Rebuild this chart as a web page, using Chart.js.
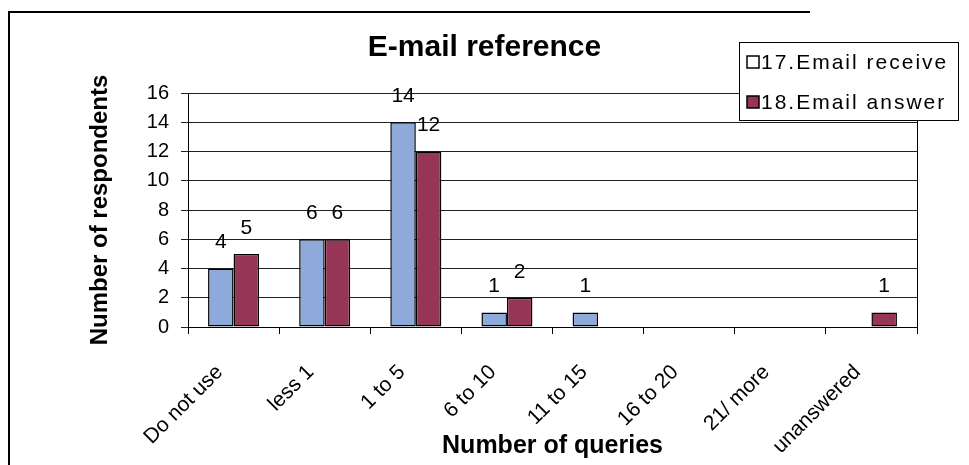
<!DOCTYPE html>
<html>
<head>
<meta charset="utf-8">
<script src="https://cdn.jsdelivr.net/npm/chart.js@4"></script>
<style>
  html, body { margin: 0; padding: 0; background: #fff; }
  #wrap { width: 969px; height: 465px; position: relative; }
</style>
</head>
<body>
<div id="wrap"><canvas id="myChart" width="969" height="465"></canvas></div>
<script>
// datos del grafico
var categorias = ['Do not use', 'less 1', '1 to 5', '6 to 10', '11 to 15', '16 to 20', '21/ more', 'unanswered'];
var emailReceive = [4, 6, 14, 1, 1, 0, 0, 0];
var emailAnswer = [5, 6, 12, 2, 0, 0, 0, 1];
var yTicks = [0, 2, 4, 6, 8, 10, 12, 14, 16];

var fuente = "'Liberation Sans', Arial, sans-serif";
var azul = '#8eaadb';
var granate = '#963656';

// etiquetas de valor encima de las barras
var etiquetas = {
    id: 'etiquetas',
    afterDatasetsDraw: function(chart) {
        var ctx = chart.ctx;
        ctx.save();
        ctx.font = '21px ' + fuente;
        ctx.fillStyle = '#000';
        ctx.textAlign = 'center';
        ctx.textBaseline = 'middle';
        chart.data.datasets.forEach(function(ds, i) {
            chart.getDatasetMeta(i).data.forEach(function(bar, j) {
                if (ds.data[j] > 0) ctx.fillText(ds.data[j], bar.x, bar.y - 26);
            });
        });
        ctx.restore();
    }
};

// marco exterior y leyenda con caja
var marco = {
    id: 'marco',
    afterDraw: function(chart) {
        var ctx = chart.ctx;
        ctx.save();
        ctx.strokeStyle = '#000';
        ctx.lineWidth = 2;
        ctx.beginPath();
        ctx.moveTo(9, 465);
        ctx.lineTo(9, 12);
        ctx.lineTo(810, 12);
        ctx.stroke();

        // leyenda
        ctx.fillStyle = '#fff';
        ctx.fillRect(739, 42, 219, 78);
        ctx.lineWidth = 1;
        ctx.strokeRect(739.5, 42.5, 219, 78);
        var muestras = ['#ffffff', granate];
        ctx.font = '21px ' + fuente;
        ctx.letterSpacing = '2px';
        ctx.textBaseline = 'middle';
        ctx.textAlign = 'left';
        chart.data.datasets.forEach(function(ds, i) {
            var y = 62 + i * 40;
            ctx.fillStyle = muestras[i];
            ctx.fillRect(747, y - 6, 12, 12);
            ctx.strokeStyle = '#000';
            ctx.lineWidth = 1.5;
            ctx.strokeRect(747, y - 6, 12, 12);
            ctx.fillStyle = '#000';
            ctx.fillText(ds.label, 761, y + 1);
        });
        ctx.restore();
    }
};

var ctx = document.getElementById('myChart').getContext('2d');
var myChart = new Chart(ctx, {
    type: 'bar',
    data: {
        labels: categorias,
        datasets: [{
            label: '17.Email receive',
            data: emailReceive,
            backgroundColor: azul,
            borderColor: '#000',
            borderWidth: 1.5,
            borderSkipped: false
        }, {
            label: '18.Email answer',
            data: emailAnswer,
            backgroundColor: granate,
            borderColor: '#000',
            borderWidth: 1.5,
            borderSkipped: false
        }]
    },
    options: {
        responsive: false,
        animation: false,
        layout: { padding: 0 },
        datasets: { bar: { categoryPercentage: 0.56, barPercentage: 1.0 } },
        plugins: {
            legend: { display: false },
            tooltip: { enabled: false },
            title: {
                display: true,
                text: 'E-mail reference',
                color: '#000',
                font: { family: fuente, size: 30, weight: 'bold' },
                padding: { top: 30, bottom: 27 }
            }
        },
        scales: {
            x: {
                afterFit: function(s) { s.height = 138; },
                grid: { drawOnChartArea: false, color: '#000', tickLength: 7 },
                border: { color: '#000', width: 1 },
                ticks: {
                    color: '#000',
                    font: { family: fuente, size: 21 },
                    minRotation: 45,
                    maxRotation: 45,
                    padding: 26,
                    labelOffset: -14
                },
                title: {
                    display: true,
                    text: 'Number of queries',
                    color: '#000',
                    font: { family: fuente, size: 25, weight: 'bold' },
                    padding: { top: 0, bottom: 4 }
                }
            },
            y: {
                min: 0,
                max: 16,
                afterFit: function(s) { s.width = 188; },
                afterBuildTicks: function(s) { s.ticks = yTicks.map(function(v) { return { value: v }; }); },
                grid: { color: '#222', tickLength: 7 },
                border: { color: '#000', width: 1 },
                ticks: {
                    color: '#000',
                    font: { family: fuente, size: 20 },
                    padding: 12
                },
                title: {
                    display: true,
                    text: 'Number of respondents',
                    color: '#000',
                    font: { family: fuente, size: 24, weight: 'bold' },
                    padding: { top: 86, bottom: 0 }
                }
            },
            // eje derecho sin marcas: cierra el area de trazado
            yDer: {
                position: 'right',
                min: 0,
                max: 16,
                afterFit: function(s) { s.width = 52; },
                grid: { drawOnChartArea: false, drawTicks: false },
                border: { color: '#000', width: 1 },
                ticks: { display: false }
            }
        }
    },
    plugins: [etiquetas, marco]
});
</script>
</body>
</html>
